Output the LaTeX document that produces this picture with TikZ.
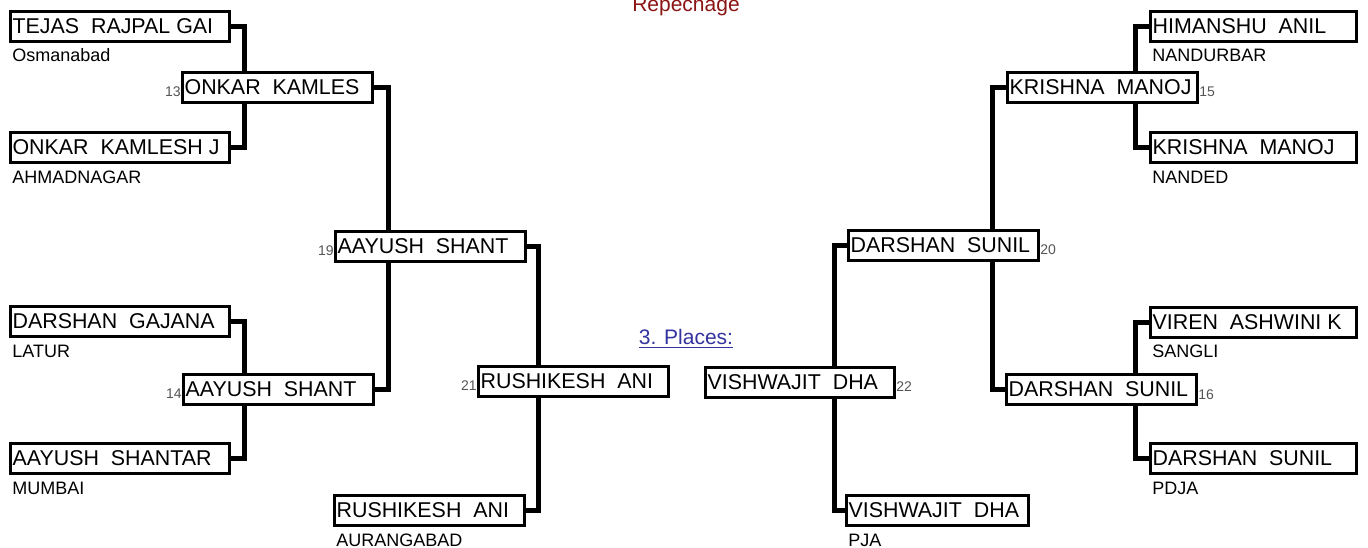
\documentclass[tikz,border=0pt]{standalone}
\usepackage{fontspec}
\setmainfont{Liberation Sans}
\newdimen\pxu \pxu=0.5pt
\definecolor{repred}{RGB}{139,20,20}
\definecolor{plblue}{RGB}{51,51,160}
\definecolor{numgray}{RGB}{85,85,85}
\newcommand\nm[2]{\makebox[#1\pxu][l]{\hspace{1.3pt}#2}}
\begin{document}
\begin{tikzpicture}[x=0.5pt,y=-0.5pt,
  pbox/.style={draw, line width=1.5pt, fill=white, anchor=west, outer sep=0pt,
    inner xsep=0pt, inner ysep=0pt, minimum height=15pt,
    font=\fontsize{10.7pt}{12pt}\selectfont},
  city/.style={anchor=west, inner sep=0pt, font=\fontsize{9pt}{10pt}\selectfont},
  numl/.style={inner sep=0pt, text=numgray, font=\fontsize{7pt}{8pt}\selectfont},
  conn/.style={line width=2.5pt}]
\useasboundingbox (0,0) rectangle (1368,547);
\fill[white] (0,0) rectangle (1368,547);
% vertical guide coordinates
\coordinate (v13) at (244,0);
\coordinate (v19) at (388,0);
\coordinate (v21) at (538,0);
\coordinate (v15) at (1135,0);
\coordinate (v20) at (992,0);
\coordinate (v22) at (834,0);
% titles
\node[anchor=base, inner sep=0pt, text=repred, font=\fontsize{10.5pt}{12pt}\selectfont] (rep) at (686,11) {Repechage};
\node[anchor=base, inner sep=0pt, text=plblue, font=\fontsize{10.5pt}{12pt}\selectfont] (pl) at (686,344) {\underline{3. Places:}};
% left leaves
\node[pbox] (t1) at (10,26) {\nm{219}{TEJAS\ \ RAJPAL GAI}};
\node[city] (c1) at (12,55) {Osmanabad};
\node[pbox] (t2) at (10,147.5) {\nm{219}{ONKAR\ \ KAMLESH J}};
\node[city] (c2) at (12,177) {AHMADNAGAR};
\node[pbox] (t3) at (10,321) {\nm{219}{DARSHAN\ \ GAJANA}};
\node[city] (c3) at (12,351) {LATUR};
\node[pbox] (t4) at (10,458) {\nm{219}{AAYUSH\ \ SHANTAR}};
\node[city] (c4) at (12,488) {MUMBAI};
\node[pbox] (t5) at (334,510) {\nm{190}{RUSHIKESH\ \ ANI}};
\node[city] (c5) at (336,540) {AURANGABAD};
% left rounds
\node[pbox] (m13) at (182,87) {\nm{190}{ONKAR\ \ KAMLES}};
\node[numl, anchor=base east] (n13) at (181,96) {13};
\node[pbox] (m14) at (183,389.5) {\nm{190}{AAYUSH\ \ SHANT}};
\node[numl, anchor=base east] (n14) at (182,398) {14};
\node[pbox] (s19) at (335,246) {\nm{190}{AAYUSH\ \ SHANT}};
\node[numl, anchor=base east] (n19) at (334,255) {19};
\node[pbox] (f21) at (478,381.5) {\nm{190}{RUSHIKESH\ \ ANI}};
\node[numl, anchor=base east] (n21) at (477,390) {21};
% right leaves
\node[pbox] (r1) at (1150,26) {\nm{206}{HIMANSHU\ \ ANIL}};
\node[city] (d1) at (1152,55) {NANDURBAR};
\node[pbox] (r2) at (1150,147.5) {\nm{206}{KRISHNA\ \ MANOJ}};
\node[city] (d2) at (1152,177) {NANDED};
\node[pbox] (r3) at (1150,322) {\nm{206}{VIREN\ \ ASHWINI K}};
\node[city] (d3) at (1152,351) {SANGLI};
\node[pbox] (r4) at (1150,458) {\nm{206}{DARSHAN\ \ SUNIL}};
\node[city] (d4) at (1152,488) {PDJA};
\node[pbox] (r5) at (846,510) {\nm{182}{VISHWAJIT\ \ DHA}};
\node[city] (d5) at (848,540) {PJA};
% right rounds
\node[pbox] (m15) at (1007,87) {\nm{190}{KRISHNA\ \ MANOJ}};
\node[numl, anchor=base west] (n15) at (1199,96) {15};
\node[pbox] (m16) at (1006,389.5) {\nm{190}{DARSHAN\ \ SUNIL}};
\node[numl, anchor=base west] (n16) at (1198,399) {16};
\node[pbox] (s20) at (848,245) {\nm{190}{DARSHAN\ \ SUNIL}};
\node[numl, anchor=base west] (n20) at (1040,254) {20};
\node[pbox] (f22) at (705,382) {\nm{189}{VISHWAJIT\ \ DHA}};
\node[numl, anchor=base west] (n22) at (896,391) {22};
% connectors left
\draw[conn] (t1.east) -| (v13 |- m13.north);
\draw[conn] (t2.east) -| (v13 |- m13.south);
\draw[conn] (t3.east) -| (v13 |- m14.north);
\draw[conn] (t4.east) -| (v13 |- m14.south);
\draw[conn] (m13.east) -| (v19 |- s19.north);
\draw[conn] (m14.east) -| (v19 |- s19.south);
\draw[conn] (s19.east) -| (v21 |- f21.north);
\draw[conn] (t5.east) -| (v21 |- f21.south);
% connectors right
\draw[conn] (r1.west) -| (v15 |- m15.north);
\draw[conn] (r2.west) -| (v15 |- m15.south);
\draw[conn] (r3.west) -| (v15 |- m16.north);
\draw[conn] (r4.west) -| (v15 |- m16.south);
\draw[conn] (m15.west) -| (v20 |- s20.north);
\draw[conn] (m16.west) -| (v20 |- s20.south);
\draw[conn] (s20.west) -| (v22 |- f22.north);
\draw[conn] (r5.west) -| (v22 |- f22.south);
\end{tikzpicture}
\end{document}
